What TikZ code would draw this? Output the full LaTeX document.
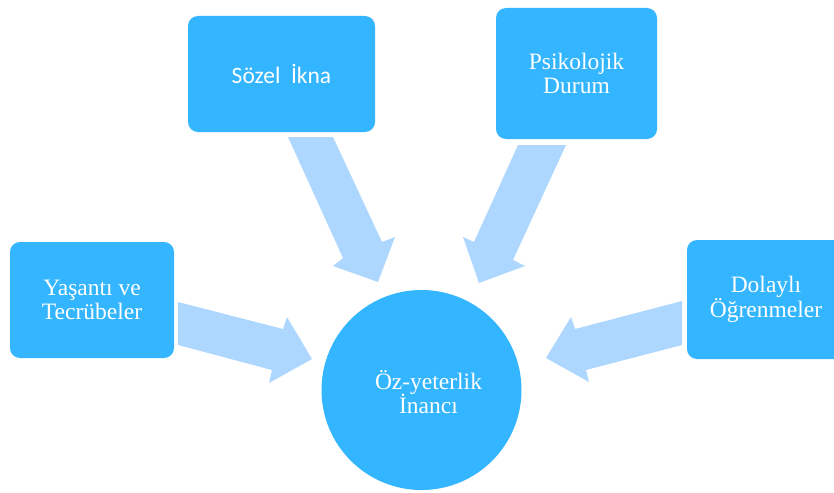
\documentclass[tikz,border=0pt]{standalone}
\usepackage{fontspec}
\setmainfont{Liberation Serif}
\newfontfamily\sozfont{Carlito}
\definecolor{boxblue}{RGB}{51,181,255}
\definecolor{arrowblue}{RGB}{174,215,255}
\begin{document}
\begin{tikzpicture}[x=1pt,y=-1pt,
  box/.style={fill=boxblue, rounded corners=10pt, text=white, align=center,
    inner sep=0pt, font=\fontsize{23.5}{24.5}\selectfont},
  blockarrow/.style={fill=arrowblue},
  hub/.style={circle, fill=boxblue, minimum size=200pt, inner sep=0pt}]
\useasboundingbox (0,0) rectangle (834,492);
\clip (0,0) rectangle (834,492);
% block arrows
\fill[blockarrow] (178,302) -- (283,329) -- (287,317) -- (312,359) -- (269,383) -- (272,370) -- (178,345) -- cycle;
\fill[blockarrow] (288,137) -- (343,258) -- (333,266) -- (378,282) -- (395,237) -- (382,242) -- (333,137) -- cycle;
\fill[blockarrow] (518,145) -- (474,242) -- (463,237) -- (479,283) -- (525,266) -- (513,260) -- (566,145) -- cycle;
\fill[blockarrow] (682,301) -- (575,329) -- (571,317) -- (546,358) -- (589,382) -- (586,370) -- (682,345) -- cycle;
% boxes
\node[box, minimum width=187pt, minimum height=116pt, font=\sozfont\fontsize{23.5}{25}\selectfont] (soz) at (281.5,74) {Sözel\ \ İkna};
\node[box, minimum width=161pt, minimum height=131pt] (psi) at (576.5,73.5) {Psikolojik\\Durum};
\node[box, minimum width=164pt, minimum height=116pt] (yas) at (92,300) {Yaşantı ve\\Tecrübeler};
\node[box, minimum width=158pt, minimum height=119pt] (dol) at (766,299.5) {Dolaylı\\Öğrenmeler};
\node[hub, label={[text=white, align=center, xshift=7pt, yshift=-2pt, font=\fontsize{23.5}{24.5}\selectfont]center:Öz-yeterlik\\İnancı}] (oz) at (421.5,390) {};
\end{tikzpicture}
\end{document}
